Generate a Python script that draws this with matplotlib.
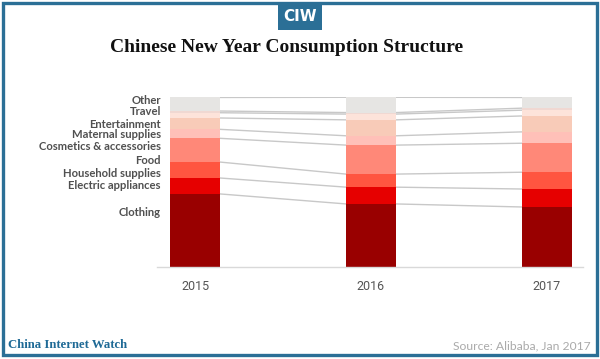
import matplotlib
matplotlib.use("Agg")
import matplotlib.pyplot as plt
from matplotlib.patches import Rectangle
import numpy as np

years = ["2015", "2016", "2017"]
categories = ["Clothing", "Electric appliances", "Household supplies", "Food",
              "Cosmetics & accessories", "Maternal supplies", "Entertainment",
              "Travel", "Other"]
clothing = [43.1, 37.2, 35.4]
electric = [9.4, 9.9, 10.6]
household = [9.4, 7.7, 9.9]
food = [14.0, 17.1, 17.1]
cosmetics = [5.3, 5.5, 6.7]
maternal = [6.7, 9.4, 9.4]
entertainment = [3.1, 3.4, 3.4]
travel = [1.0, 0.9, 1.2]
other = [8.0, 9.0, 6.3]
series = [clothing, electric, household, food, cosmetics, maternal,
          entertainment, travel, other]
colors = ["#990000", "#e60000", "#ff5540", "#ff8878", "#ffc0b8",
          "#f8cbb8", "#fde3da", "#f0d8d2", "#e6e5e3"]

W, H = 600, 359
fig = plt.figure(figsize=(6, 3.59), dpi=100)
fig.patch.set_facecolor("white")

def fx(px):
    return px / W

def fy(py):
    return 1 - py / H

# frame
frame_col = "#2b6f96"
fig.add_artist(Rectangle((fx(3), fy(355)), fx(594), 352 / H, transform=fig.transFigure,
                         fill=False, edgecolor=frame_col, linewidth=2.4))
# CIW logo box
fig.add_artist(Rectangle((fx(278), fy(30)), fx(44), 28 / H, transform=fig.transFigure,
                         facecolor=frame_col, edgecolor="none"))
fig.text(fx(300), fy(16.5), "CIW", color="white", fontsize=11, fontweight="bold",
         family="DejaVu Sans Condensed", ha="center", va="center")

fig.text(fx(287), fy(47), "Chinese New Year Consumption Structure",
         family="Liberation Serif", fontweight="bold", fontsize=14.0,
         ha="center", va="center", color="#111111")

ax = fig.add_axes([fx(157), fy(267), (583 - 157) / W, (267 - 97.3) / H])
x = np.arange(len(years))
bw = 0.284
bottom = np.zeros(len(years))
bounds = [bottom.copy()]
for vals, c in zip(series, colors):
    v = np.array(vals)
    ax.bar(x, v, width=bw, bottom=bottom, color=c, edgecolor="none", zorder=2)
    bottom = bottom + v
    bounds.append(bottom.copy())

for b in bounds[1:]:
    for i in range(len(years) - 1):
        ax.plot([x[i] + bw / 2, x[i + 1] - bw / 2], [b[i], b[i + 1]],
                color="#c8c8c8", lw=1.0, zorder=1)

ax.set_xlim(-0.216, 2.205)
ax.set_ylim(0, bounds[-1].max())
for s in ["top", "right", "left"]:
    ax.spines[s].set_visible(False)
ax.spines["bottom"].set_color("#d9d9d9")
ax.spines["bottom"].set_linewidth(1)
ax.set_yticks([])
ax.set_xticks(x)
ax.set_xticklabels(years, family="Roboto", fontsize=9, color="#555555")
ax.tick_params(axis="x", length=0, pad=9)

label_y = {"Other": 100, "Travel": 112, "Entertainment": 124, "Maternal supplies": 135,
           "Cosmetics & accessories": 147, "Food": 161, "Household supplies": 173,
           "Electric appliances": 186, "Clothing": 213}
for cat in categories:
    fig.text(fx(161), fy(label_y[cat]), cat, ha="right", va="center",
             family="Lato", fontweight="bold", fontsize=8.1, color="#505050")

fig.text(fx(8), fy(345), "China Internet Watch", family="Liberation Serif",
         fontweight="bold", fontsize=9.2, color="#1f6a96", ha="left", va="center")
fig.text(fx(591), fy(346), "Source: Alibaba, Jan 2017", family="Lato",
         fontsize=8.7, color="#aaaaaa", ha="right", va="center")

fig.savefig("out.png", dpi=100, facecolor="white")
